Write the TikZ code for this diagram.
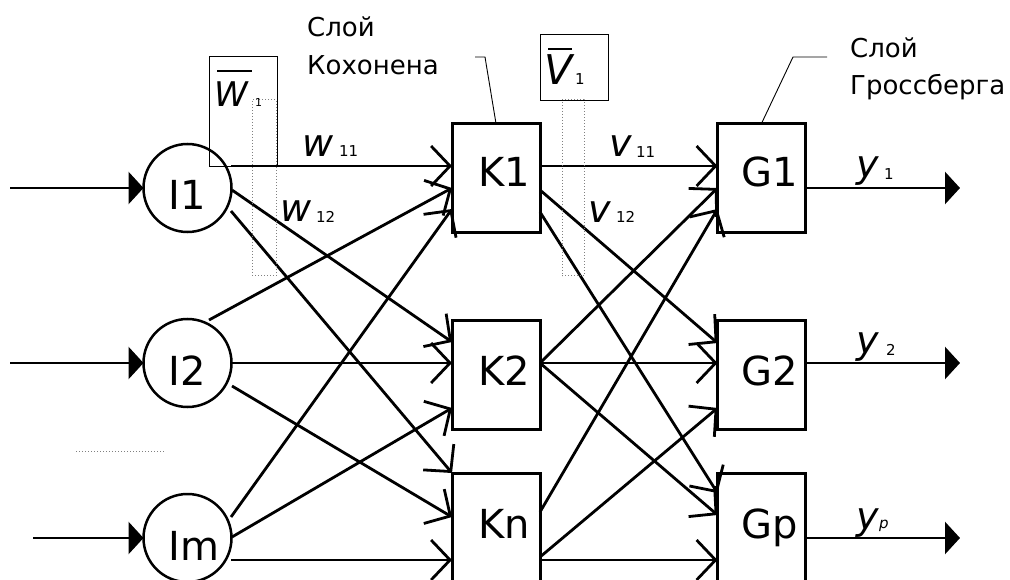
\documentclass[tikz,border=0pt]{standalone}
\usepackage{fontspec}
\setmainfont{DejaVu Sans}
\usetikzlibrary{arrows.meta}
\begin{document}
\begin{tikzpicture}[x=1pt,y=-1pt,
  unitbox/.style={draw, line width=3pt, minimum width=88pt, minimum height=109pt, inner sep=0pt, outer sep=0pt},
  neuron/.style={draw, circle, line width=2.5pt, minimum size=88pt, inner sep=0pt, outer sep=0pt},
  conn/.style={line width=2.8pt, -{Straight Barb[length=19pt,width=40pt,line width=2.8pt]}},
  io/.style={line width=2.8pt, -{Triangle[length=15pt,width=32pt]}},
  big/.style={font=\fontsize{40}{40}\selectfont, anchor=base west, inner sep=0pt},
  captxt/.style={font=\fontsize{26}{26}\selectfont, anchor=base west, inner sep=0pt},
  wt/.style={font=\fontsize{38}{38}\selectfont\itshape, anchor=base west, inner sep=0pt},
  sub/.style={font=\fontsize{15}{15}\selectfont, anchor=base west, inner sep=0pt},
  leader/.style={line width=0.9pt},
  thinbox/.style={draw, line width=1pt, inner sep=0pt, outer sep=0pt},
  dotbox/.style={draw=gray, dotted, line width=1pt, inner sep=0pt, outer sep=0pt},
]
\useasboundingbox (0,0) rectangle (1010,580);

% neurons
\node[neuron] (I1) at (187.5,188) {};
\node[neuron] (I2) at (187.5,363) {};
\node[neuron] (Im) at (187.5,538) {};
\node[big] (I1t) at (168,210) {I1};
\node[big] (I2t) at (168,385) {I2};
\node[big] (Imt) at (168,560) {Im};

\node[unitbox] (K1) at (496,178) {};
\node[unitbox] (K2) at (496,374.5) {};
\node[unitbox] (Kn) at (496,527.5) {};
\node[big] (K1t) at (478,187) {K1};
\node[big] (K2t) at (478,385) {K2};
\node[big] (Knt) at (478,538) {Kn};

\node[unitbox] (G1) at (761.5,178) {};
\node[unitbox] (G2) at (761.5,374.5) {};
\node[unitbox] (Gp) at (761.5,527.5) {};
\node[big] (G1t) at (741,187) {G1};
\node[big] (G2t) at (741,385) {G2};
\node[big] (Gpt) at (741,538) {Gp};

% input arrows
\coordinate (in1) at (10,188);
\coordinate (in2) at (10,363);
\coordinate (inm) at (33,538);
\draw[io] (in1) -- (I1.west);
\draw[io] (in2) -- (I2.west);
\draw[io] (inm) -- (Im.west);

% ports on input neurons
\coordinate (i1a) at (231,166); \coordinate (i1b) at (232,190); \coordinate (i1c) at (231,211);
\coordinate (i2a) at (209,320); \coordinate (i2b) at (232,363); \coordinate (i2c) at (232,386);
\coordinate (ima) at (231,517); \coordinate (imb) at (232,537); \coordinate (imc) at (231,560);
% ports on K left
\coordinate (k1a) at (452,166); \coordinate (k1b) at (452,188); \coordinate (k1c) at (452,209);
\coordinate (k2a) at (452,342); \coordinate (k2b) at (452,363); \coordinate (k2c) at (452,408);
\coordinate (kna) at (452,473); \coordinate (knb) at (452,517); \coordinate (knc) at (452,560);
% ports on K right
\coordinate (o1a) at (540,166); \coordinate (o1b) at (540,190); \coordinate (o1c) at (540,212);
\coordinate (o2) at (540,363);
\coordinate (ona) at (540,512); \coordinate (onb) at (540,557); \coordinate (onc) at (540,560);
% ports on G left
\coordinate (g1a) at (717.5,166); \coordinate (g1b) at (717.5,188); \coordinate (g1c) at (717.5,209);
\coordinate (g2a) at (717.5,343); \coordinate (g2b) at (717.5,363); \coordinate (g2c) at (717.5,408);
\coordinate (gpa) at (717.5,493); \coordinate (gpb) at (717.5,515); \coordinate (gpc) at (717.5,560);

% input -> Kohonen
\draw[conn] (i1a) -- (k1a);
\draw[conn] (i1b) -- (k2a);
\draw[conn] (i1c) -- (kna);
\draw[conn] (i2a) -- (k1b);
\draw[conn] (i2b) -- (k2b);
\draw[conn] (i2c) -- (knb);
\draw[conn] (ima) -- (k1c);
\draw[conn] (imb) -- (k2c);
\draw[conn] (imc) -- (knc);

% Kohonen -> Grossberg
\draw[conn] (o1a) -- (g1a);
\draw[conn] (o1b) -- (g2a);
\draw[conn] (o1c) -- (gpa);
\draw[conn] (o2) -- (g1b);
\draw[conn] (o2) -- (g2b);
\draw[conn] (o2) -- (gpb);
\draw[conn] (ona) -- (g1c);
\draw[conn] (onb) -- (g2c);
\draw[conn] (onc) -- (gpc);

% outputs
\coordinate (out1) at (960,188);
\coordinate (out2) at (960,363);
\coordinate (outp) at (960,538);
\draw[io] (G1.east |- out1) -- (out1);
\draw[io] (G2.east |- out2) -- (out2);
\draw[io] (Gp.east |- outp) -- (outp);

% output labels
\node[wt] (y1) at (856,178) {y};
\node[sub] (y1s) at (884,180) {1};
\node[wt] (y2) at (856,353) {y};
\node[sub] (y2s) at (886,355) {2};
\node[wt] (yp) at (856,529) {y};
\node[sub, font=\fontsize{15}{15}\selectfont\itshape] (yps) at (879,528) {p};

% weight labels
\node[wt] (w11) at (302,157) {w};
\node[sub] (w11s) at (339,157) {11};
\node[wt] (w12) at (280,222) {w};
\node[sub] (w12s) at (316,223) {12};
\node[wt] (v11) at (609,157) {v};
\node[sub] (v11s) at (636,158) {11};
\node[wt] (v12) at (588,223) {v};
\node[sub] (v12s) at (616,223) {12};

% weight vector boxes
\node[thinbox, minimum width=68pt, minimum height=110pt] (Wbox) at (243,112) {};
\node[dotbox, minimum width=24pt, minimum height=176pt] (Wdot) at (264,188) {};
\node[wt, font=\fontsize{34}{34}\selectfont\itshape] (Wt) at (214,107) {W};
\draw[line width=1.5pt] (217,71) -- (252,71);
\node[sub, font=\fontsize{11}{11}\selectfont] (Ws) at (255,107) {1};

\node[thinbox, minimum width=68pt, minimum height=66pt] (Vbox) at (574,68) {};
\node[dotbox, minimum width=22pt, minimum height=176pt] (Vdot) at (573,188) {};
\node[wt, font=\fontsize{41}{41}\selectfont\itshape] (Vt) at (544,85) {V};
\draw[line width=1.5pt] (548,49) -- (572,49);
\node[sub] (Vs) at (575,85) {1};

% layer captions
\node[captxt] (kc1) at (307,37) {Слой};
\node[captxt] (kc2) at (307,75) {Кохонена};
\coordinate (kl) at (475,57);
\draw[leader] (kl) -- (485,57) -- (K1.north);
\node[captxt] (gc1) at (850,58) {Слой};
\node[captxt] (gc2) at (850,95) {Гроссберга};
\coordinate (gl) at (827,57);
\draw[leader] (gl) -- (793,57) -- (G1.north);

% dots between inputs
\coordinate (d1) at (76,451);
\coordinate (d2) at (164,451);
\draw[draw=gray, dotted, line width=1pt] (d1) -- (d2);
\end{tikzpicture}
\end{document}
